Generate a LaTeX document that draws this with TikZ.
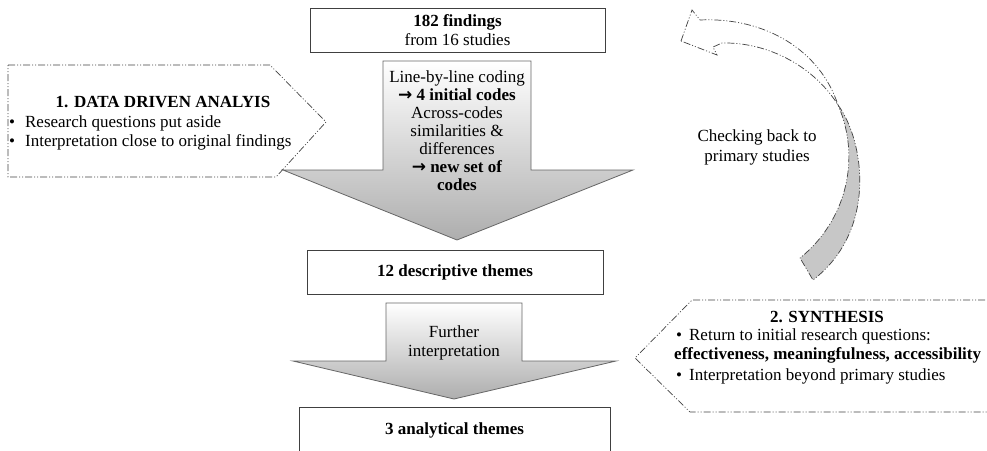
\documentclass[tikz,border=0pt]{standalone}
\usepackage{fontspec}
\setmainfont{Liberation Serif}
\newfontfamily\arrowfont{DejaVu Sans}
\usetikzlibrary{positioning}

\newcommand{\rarr}{{\arrowfont\bfseries →}}

\tikzset{
    box/.style={draw=black!75, line width=0.8pt, fill=white, inner sep=0pt},
    txt/.style={font=\fontsize{17}{19}\selectfont, align=center, inner sep=0pt},
    dashdotdot/.style={draw=black!75, line width=0.7pt,
        dash pattern=on 7pt off 2pt on 1pt off 2pt on 1pt off 2pt},
    flow/.style={draw=black!60, line width=0.8pt, top color=white, bottom color=black!32},
}

\begin{document}
\begin{tikzpicture}[x=1pt, y=-1pt]
    \useasboundingbox (0,0) rectangle (987,450);

    % findings from the studies
    \node[box, txt, minimum width=295pt, minimum height=44pt] (findings) at (457.5,30)
        {\textbf{182 findings}\\from 16 studies};

    % coding step
    \draw[flow] (383,61) -- (531,61) -- (531,170) -- (633,170) -- (457,240)
        -- (283,170) -- (383,170) -- cycle;
    \node[txt, font=\fontsize{17}{18}\selectfont] (coding) at (457,131)
        {Line-by-line coding\\ \rarr\ \textbf{4 initial codes}\\ Across-codes\\
         similarities \&\\ differences\\ \rarr\ \textbf{new set of}\\ \textbf{codes}};

    % descriptive themes
    \node[box, txt, minimum width=296pt, minimum height=44pt] (descriptive) at (455,272)
        {\textbf{12 descriptive themes}};

    % further interpretation
    \draw[flow] (386,303) -- (522,303) -- (522,361) -- (616,361) -- (454,399)
        -- (293,361) -- (386,361) -- cycle;
    \node[txt] (further) at (454,343) {Further\\interpretation};

    % analytical themes (cut by the page)
    \draw[box] (299,407) rectangle (610,470);
    \node[txt] (analytical) at (454.5,430) {\textbf{3 analytical themes}};

    % 1. data driven analysis
    \draw[dashdotdot] (8,65) -- (270,65) -- (326,122) -- (276,177) -- (8,177) -- cycle;
    \node[txt] (datatitle) at (163,102) {\textbf{1. DATA DRIVEN ANALYIS}};
    \foreach \y/\lab in {
        123/{Research questions put aside},
        142/{Interpretation close to original findings}
    }{
        \node[txt, anchor=west] (data-\y) at (9,\y) {\textbullet\hspace{10pt}\lab};
    }

    % 2. synthesis
    \draw[dashdotdot] (1000,300) -- (692,300) -- (635,358) -- (690,412) -- (1000,412);
    \node[txt] (syntitle) at (827,317) {\textbf{2. SYNTHESIS}};
    \node[txt, anchor=west] (syn-a) at (676,336) {\textbullet\hspace{7pt}Return to initial research questions:};
    \node[txt, anchor=west] (syn-b) at (674,355) {\textbf{effectiveness, meaningfulness, accessibility}};
    \node[txt, anchor=west] (syn-c) at (676,376) {\textbullet\hspace{7pt}Interpretation beyond primary studies};

    % checking back arrow
    \draw[dashdotdot, fill=black!22] (838,105) .. controls (864,140) and (878,230) .. (813,280)
        -- (800,258) .. controls (845,222) and (862,160) .. (838,105);
    \draw[dashdotdot, fill=white] (681,41) -- (692,10) -- (700,20)
        .. controls (765,17) and (820,50) .. (838,105)
        .. controls (815,68) and (770,42) .. (722,43) -- (713,47) -- (717,55) -- cycle;
    \node[txt, font=\fontsize{17}{20}\selectfont] (checking) at (757,147)
        {Checking back to\\primary studies};
\end{tikzpicture}
\end{document}
